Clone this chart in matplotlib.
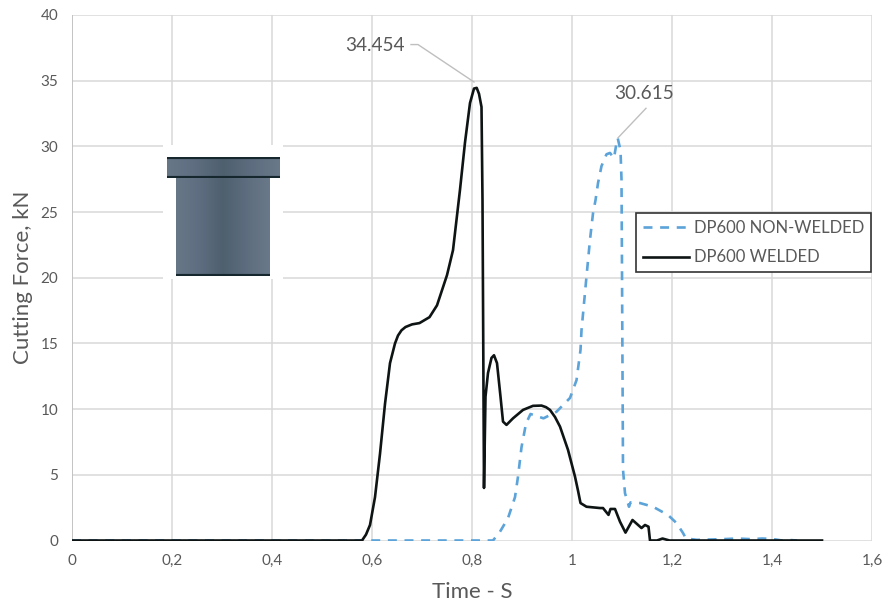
import matplotlib
matplotlib.use('Agg')
import matplotlib.pyplot as plt
from matplotlib.colors import LinearSegmentedColormap
from matplotlib.patches import Rectangle
import numpy as np

plt.rcParams['font.family'] = ['Lato', 'DejaVu Sans']

W, H = 882, 605

welded_t = [0, 0.58, 0.588, 0.596, 0.606, 0.616, 0.626, 0.636, 0.646, 0.652, 0.659, 0.667, 0.68, 0.695, 0.715, 0.73,
            0.75, 0.762, 0.776, 0.786, 0.796, 0.804, 0.8094, 0.814, 0.819, 0.821, 0.824, 0.827, 0.832, 0.839, 0.844,
            0.85, 0.857, 0.862, 0.869, 0.882, 0.902, 0.922, 0.939, 0.948, 0.956, 0.966, 0.976, 0.992, 1.006, 1.012,
            1.017, 1.029, 1.056, 1.062, 1.073, 1.077, 1.086, 1.096, 1.107, 1.121, 1.139, 1.146, 1.153, 1.156, 1.17,
            1.181, 1.195, 1.5]
welded_f = [0, 0, 0.45, 1.18, 3.3, 6.6, 10.4, 13.5, 15.0, 15.6, 16.0, 16.25, 16.45, 16.55, 17.0, 17.9,
            20.2, 22.1, 26.7, 30.3, 33.3, 34.4, 34.454, 34.0, 33.0, 25.9, 4.0, 10.95, 12.75, 13.9, 14.1,
            13.5, 10.95, 9.05, 8.8, 9.3, 9.94, 10.25, 10.27, 10.15, 9.94, 9.4, 8.67, 6.9, 4.86, 3.8,
            2.85, 2.57, 2.47, 2.47, 1.95, 2.4, 2.4, 1.43, 0.6, 1.56, 0.95, 1.18, 1.05, 0, 0,
            0.15, 0, 0]

nonwelded_t = [0, 0.842, 0.856, 0.872, 0.886, 0.892, 0.899, 0.908, 0.917, 0.943, 0.969, 0.996, 1.009, 1.017, 1.019,
               1.029, 1.036, 1.042, 1.047, 1.052, 1.059, 1.069, 1.076, 1.084, 1.09, 1.0915, 1.097, 1.099, 1.10,
               1.102, 1.106, 1.114, 1.117, 1.136, 1.162, 1.192, 1.209, 1.222, 1.228, 1.25, 1.3, 1.33, 1.36, 1.38,
               1.4, 1.42, 1.43, 1.45]
nonwelded_f = [0, 0, 0.67, 1.7, 3.3, 4.86, 7.1, 8.9, 9.63, 9.3, 9.8, 10.85, 12.2, 14.5, 16.0,
               20.1, 22.9, 24.9, 25.9, 27.2, 28.5, 29.4, 29.5, 29.1, 30.5, 30.615, 29.7, 27.5, 20.6,
               5.4, 3.6, 2.57, 2.9, 2.85, 2.57, 1.94, 1.33, 0.57, 0.15, 0.05, 0.1, 0.15, 0.1, 0.15,
               0.12, 0, 0.05, 0]

x_ticks = [0, 0.2, 0.4, 0.6, 0.8, 1, 1.2, 1.4, 1.6]
x_labels = ['0', '0,2', '0,4', '0,6', '0,8', '1', '1,2', '1,4', '1,6']
y_ticks = [0, 5, 10, 15, 20, 25, 30, 35, 40]

TEXT = '#595959'
GRID = '#D9D9D9'
BLUE = '#5BA3D9'
BLACK = '#0E1414'


def fig_box(x0, y0, x1, y1):
    # pixel box (origin top left) to figure fractions
    return [x0 / W, 1 - y1 / H, (x1 - x0) / W, (y1 - y0) / H]


fig = plt.figure(figsize=(W / 100, H / 100), dpi=100)
ax = fig.add_axes(fig_box(72, 15, 872, 540.5))

ax.plot(nonwelded_t, nonwelded_f, color=BLUE, lw=1.9, dashes=(3.4, 2.9), label='DP600 NON-WELDED', zorder=3)
ax.plot(welded_t, welded_f, color=BLACK, lw=1.9, solid_joinstyle='round', label='DP600 WELDED', zorder=4)

ax.set_xlim(0, 1.6)
ax.set_ylim(0, 40)
ax.set_xticks(x_ticks)
ax.set_xticklabels(x_labels)
ax.set_yticks(y_ticks)
ax.grid(True, color=GRID, lw=1.1)
ax.set_axisbelow(True)
ax.tick_params(length=0, labelsize=11, labelcolor=TEXT, pad=10)
for name, spine in ax.spines.items():
    spine.set_visible(False)
ax.axvline(0, color='#BFBFBF', lw=1.2, zorder=1)

ax.set_xlabel('Time - S', fontsize=16, color=TEXT, labelpad=10)
ax.set_ylabel('Cutting Force, kN', fontsize=16, color=TEXT, labelpad=5)

# data labels with leader lines
ax.text(0.606, 37.7, '34.454', ha='center', va='center', fontsize=13.7, color=TEXT, zorder=6)
ax.plot([0.678, 0.692, 0.804], [37.75, 37.75, 34.9], color='#BFBFBF', lw=1, zorder=2)
ax.text(1.145, 34.0, '30.615', ha='center', va='center', fontsize=13.7, color=TEXT, zorder=6)
ax.plot([1.148, 1.092], [32.9, 30.65], color='#BFBFBF', lw=1, zorder=2)

# picture of the punch, white halo hides the grid behind it
ax.add_patch(Rectangle((163 / W, 1 - 279 / H), 120 / W, 134 / H, transform=fig.transFigure,
                       facecolor='white', edgecolor='none', zorder=2))
steel = LinearSegmentedColormap.from_list('steel', ['#687788', '#5E6E80', '#4E5F6E', '#5D6D7F', '#6A7989'])
shade = np.linspace(0, 1, 128).reshape(1, -1)
for box, edges in [(fig_box(176, 177, 270, 276), 'bottom'), (fig_box(167, 157, 280, 178), 'both')]:
    icon = fig.add_axes(box, zorder=5)
    icon.imshow(shade, cmap=steel, aspect='auto')
    icon.set_xticks([])
    icon.set_yticks([])
    for name, spine in icon.spines.items():
        spine.set_visible(False)
    if edges == 'both':
        icon.axhline(-0.5, color='#16282E', lw=3)
    icon.axhline(0.5, color='#16282E', lw=3)

leg = ax.legend(loc='upper left', bbox_to_anchor=((636 - 72) / 800, (540.5 - 213) / 525.5), borderaxespad=0,
                fontsize=12, labelcolor=TEXT, frameon=True, fancybox=False, framealpha=1, edgecolor='#333333',
                handlelength=2.76, handletextpad=0.3, labelspacing=0.8, borderpad=0.42)
leg.get_frame().set_linewidth(1.2)
leg.set_zorder(7)

fig.savefig('out.png', dpi=100)
